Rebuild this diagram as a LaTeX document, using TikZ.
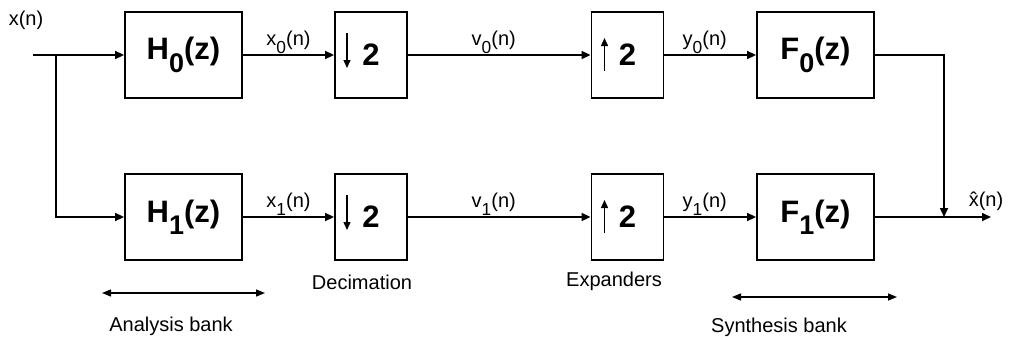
\documentclass[tikz,border=0pt]{standalone}
\usepackage{fontspec}
\setmainfont{Liberation Sans}
\usetikzlibrary{arrows.meta,calc}
% large, deeply lowered index digit
\newcommand{\idx}[1]{\raisebox{-0.4em}{\scalebox{0.87}{#1}}}
\begin{document}
\begin{tikzpicture}[x=1pt,y=-1pt,
  block/.style={draw, line width=1.8pt, inner sep=0pt,
    font=\fontsize{31}{34}\selectfont\bfseries},
  filt/.style={block, minimum width=117pt, minimum height=86pt},
  rate/.style={block, minimum width=72pt, minimum height=86pt},
  wire/.style={line width=1.6pt},
  flow/.style={wire, -{Triangle[length=9pt,width=8pt]}},
  sig/.style={font=\fontsize{20}{23}\selectfont, inner sep=0pt},
  note/.style={font=\fontsize{20}{23}\selectfont, inner sep=0pt},
  span/.style={line width=1.4pt,
    {Triangle[length=9pt,width=7pt]}-{Triangle[length=9pt,width=7pt]}},
  updown/.style={line width=1.4pt, -{Triangle[length=8pt,width=7pt]}}
]
\useasboundingbox (0,0) rectangle (1010,340);

% analysis filters, decimators, expanders, synthesis filters
\node[filt] (H0) at (183.5,55) {H\idx{0}(z)};
\node[filt] (H1) at (183.5,217) {H\idx{1}(z)};
\node[rate] (D0) at (371,55) {2};
\node[rate] (D1) at (371,217) {2};
\node[rate] (E0) at (627.5,55) {2};
\node[rate] (E1) at (627.5,217) {2};
\node[filt] (F0) at (815.5,55) {F\idx{0}(z)};
\node[filt] (F1) at (815.5,217) {F\idx{1}(z)};

% down / up arrows inside the rate changers
\draw[updown] ($(D0.center)+(-24,-22)$) -- ($(D0.center)+(-24,13)$);
\draw[updown] ($(D1.center)+(-24,-22)$) -- ($(D1.center)+(-24,13)$);
\draw[updown] ($(E0.center)+(-23,16)$) -- ($(E0.center)+(-23,-17)$);
\draw[updown] ($(E1.center)+(-23,16)$) -- ($(E1.center)+(-23,-17)$);

% input and split
\node[sig] (xin) at (26,20) {x(n)};
\coordinate (in) at (33,55);
\coordinate (split) at (56,55);
\draw[flow] (in) -- (H0.west);
\draw[flow] (split) |- (H1.west);

% upper branch
\draw[flow] (H0) -- node[sig, above=1pt] {x\idx{0}(n)} (D0);
\draw[flow] (D0) -- node[sig, above=1pt, pos=0.47] {v\idx{0}(n)} (E0);
\draw[flow] (E0) -- node[sig, above=1pt, pos=0.44] {y\idx{0}(n)} (F0);

% lower branch
\draw[flow] (H1) -- node[sig, above=1pt] {x\idx{1}(n)} (D1);
\draw[flow] (D1) -- node[sig, above=1pt, pos=0.47] {v\idx{1}(n)} (E1);
\draw[flow] (E1) -- node[sig, above=1pt, pos=0.44] {y\idx{1}(n)} (F1);

% output sum
\coordinate (join) at (944,217);
\coordinate (out) at (991,217);
\draw[flow] (F0.east) -| (join);
\draw[flow] (F1.east) -- (out);
\node[sig, anchor=south] (xhat) at (986,211) {\^{x}(n)};

% stage captions
\node[note] (dec) at (362,282) {Decimation};
\node[note] (exp) at (614,281) {Expanders};

% bank spans
\coordinate (a1) at (102,293);
\coordinate (a2) at (265,293);
\draw[span] (a1) -- (a2);
\node[note] (abank) at (171,326) {Analysis bank};
\coordinate (s1) at (732,297);
\coordinate (s2) at (897,297);
\draw[span] (s1) -- (s2);
\node[note] (sbank) at (779,327) {Synthesis bank};
\end{tikzpicture}
\end{document}
